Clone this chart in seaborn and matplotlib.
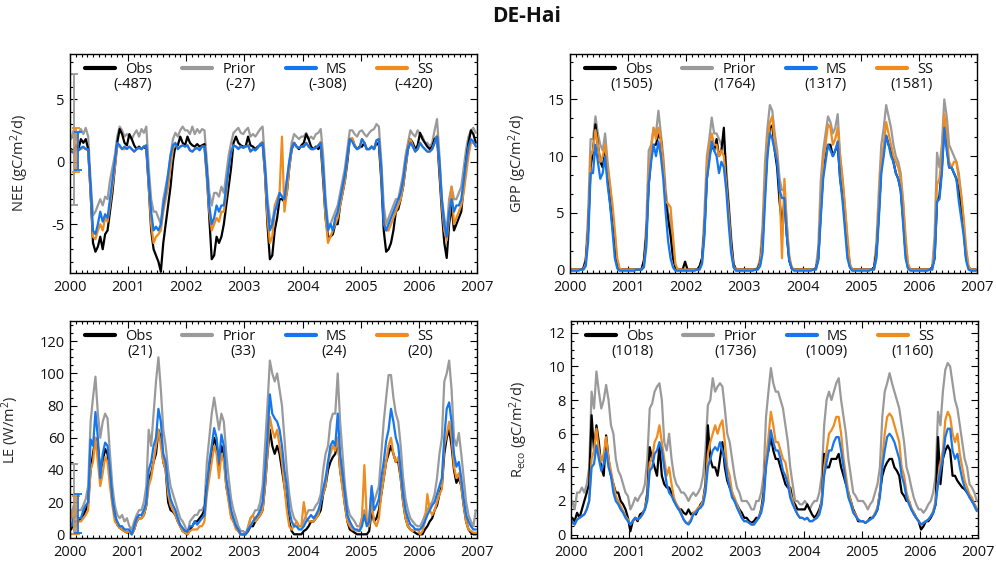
import numpy as np
import pandas as pd
import matplotlib
matplotlib.use('Agg')
import matplotlib.pyplot as plt
import seaborn as sns
from matplotlib.ticker import MultipleLocator
from matplotlib.lines import Line2D

# ---------------- data (half-monthly values, 2000-2006) ----------------
YEARS = list(range(2000, 2007))
STEPS_PER_YEAR = 24
SERIES = ['Obs', 'Prior', 'MS', 'SS']

nee_obs = [
    1.0, 0.8, 1.3, 1.0, 1.8, 1.5, 1.8, 1.0, -2.5, -6.5, -7.2, -6.8, -6.0, -7.0, -5.8, -5.5, -4.0, -2.5, -0.5, 1.5, 2.6, 2.2, 1.5, 1.3,
    2.2, 1.8, 1.3, 1.0, 1.2, 1.0, 1.2, 1.0, -2.0, -5.5, -7.0, -7.5, -8.0, -8.8, -6.5, -5.0, -3.5, -2.0, 0.0, 1.3, 1.3, 2.0, 1.5, 1.3,
    2.0, 1.5, 1.3, 1.2, 1.4, 1.2, 1.3, 1.4, -1.0, -4.5, -7.8, -7.5, -6.0, -6.5, -6.0, -5.0, -3.5, -2.0, -0.5, 1.5, 2.0, 1.5, 1.3, 1.2,
    1.2, 2.0, 1.3, 1.2, 1.0, 1.2, 1.3, 1.5, -1.0, -5.0, -7.8, -7.5, -5.5, -4.5, -3.0, -3.0, -3.2, -2.5, -0.5, 1.0, 1.5, 1.2, 1.0, 1.3,
    1.5, 2.2, 1.8, 1.2, 1.0, 1.2, 1.0, 1.3, -1.5, -4.5, -6.0, -6.0, -5.8, -5.0, -5.0, -3.5, -2.5, -1.5, 0.0, 1.8, 1.8, 1.3, 1.0, 1.2,
    1.2, 1.5, 1.0, 1.0, 1.2, 1.0, 1.5, 1.3, -1.5, -5.5, -7.2, -7.0, -6.5, -5.5, -4.0, -3.8, -3.0, -2.0, -0.5, 1.0, 1.8, 1.5, 1.0, 1.3,
    2.3, 1.8, 1.5, 1.2, 1.0, 1.2, 1.8, 2.0, -1.0, -4.0, -6.5, -7.7, -5.0, -3.5, -5.5, -5.0, -4.5, -4.0, -2.0, 0.0, 1.5, 2.5, 2.2, 1.5]
nee_prior = [
    1.8, 2.5, 1.8, 2.3, 2.6, 2.2, 2.7, 2.0, -1.5, -4.3, -4.0, -3.5, -3.0, -3.5, -2.8, -3.0, -1.5, -0.5, 0.5, 2.0, 2.8, 2.5, 2.0, 2.2,
    2.0, 1.8, 2.2, 2.5, 2.0, 2.6, 2.3, 2.8, -0.5, -3.0, -4.0, -4.0, -4.5, -5.0, -3.0, -2.0, -1.0, 0.5, 1.8, 2.3, 2.0, 2.5, 2.8, 2.5,
    2.5, 2.2, 2.8, 2.2, 2.6, 2.3, 2.6, 2.5, 0.0, -2.5, -3.5, -2.5, -2.5, -2.8, -2.0, -2.5, -1.0, 0.5, 1.5, 2.3, 2.5, 2.7, 2.3, 2.2,
    2.5, 2.7, 2.0, 2.2, 2.0, 2.3, 2.6, 2.8, 0.0, -3.0, -4.5, -5.0, -3.5, -3.0, -2.5, -2.8, -3.0, -1.5, 0.0, 1.5, 2.2, 2.0, 1.8, 2.0,
    2.0, 2.3, 1.8, 2.0, 1.8, 2.2, 2.3, 2.6, 0.5, -3.0, -5.0, -5.0, -4.5, -4.0, -3.5, -2.5, -1.5, -0.5, 1.0, 2.5, 2.5, 2.2, 2.0, 2.4,
    2.5, 2.2, 2.0, 2.3, 2.5, 2.6, 3.0, 2.8, 0.0, -3.5, -5.0, -4.5, -4.0, -3.5, -3.0, -3.0, -2.0, -1.0, 0.5, 1.5, 2.5, 2.2, 2.0, 2.5,
    2.2, 2.0, 1.5, 1.5, 1.2, 1.5, 2.5, 3.4, 0.5, -3.0, -4.5, -5.5, -3.0, -2.0, -3.0, -3.0, -2.5, -2.0, -0.5, 1.0, 2.0, 2.5, 2.7, 2.3]
nee_ms = [
    0.8, 0.7, 1.0, 0.9, 1.1, 1.2, 1.0, 1.0, -2.0, -5.5, -5.8, -5.0, -4.0, -4.8, -4.2, -4.5, -3.0, -1.5, 0.0, 1.5, 1.3, 1.0, 1.2, 1.0,
    1.2, 1.0, 0.8, 1.0, 1.1, 1.0, 1.2, 1.3, -1.5, -4.0, -5.5, -5.2, -5.5, -5.0, -3.5, -2.5, -1.0, 0.5, 1.3, 1.5, 1.0, 1.2, 1.3, 1.2,
    1.3, 0.9, 0.8, 1.0, 1.1, 0.9, 1.2, 1.2, -1.0, -3.5, -5.0, -4.5, -3.5, -4.0, -3.5, -3.5, -2.0, -0.5, 0.8, 1.3, 1.2, 1.0, 1.2, 1.1,
    1.2, 1.3, 0.8, 1.0, 0.9, 1.1, 1.4, 1.5, -0.5, -3.5, -5.5, -5.0, -4.0, -3.5, -2.5, -2.8, -3.0, -1.5, 0.0, 1.0, 1.5, 1.2, 1.1, 1.2,
    1.2, 1.5, 1.2, 1.0, 1.0, 1.1, 1.3, 1.5, -0.5, -3.5, -5.5, -5.0, -5.5, -4.5, -4.0, -3.0, -2.0, -1.0, 0.5, 1.8, 1.6, 1.2, 1.0, 1.1,
    1.8, 1.5, 1.0, 1.0, 1.2, 1.0, 1.7, 1.8, -0.5, -5.0, -5.5, -5.0, -4.5, -4.0, -3.5, -3.0, -2.5, -1.5, 0.0, 1.0, 1.5, 1.2, 0.8, 1.0,
    1.5, 1.2, 1.0, 0.8, 0.8, 1.0, 1.5, 2.0, 0.0, -3.0, -5.0, -6.0, -4.0, -3.0, -4.0, -3.5, -3.5, -3.0, -1.5, 0.0, 1.2, 1.8, 1.6, 1.2]
nee_ss = [
    0.9, 0.8, 1.0, 0.9, 1.0, 1.1, 1.0, 0.9, -2.5, -6.0, -6.2, -5.5, -5.0, -5.5, -4.5, -4.8, -3.5, -2.0, -0.5, 1.2, 1.2, 1.0, 1.0, 1.1,
    1.2, 1.0, 0.8, 1.0, 1.1, 1.0, 1.2, 1.3, -2.0, -5.0, -6.5, -6.0, -5.8, -5.5, -4.0, -3.0, -2.0, -0.5, 1.0, 1.4, 1.0, 1.2, 1.3, 1.2,
    1.3, 0.9, 0.8, 1.0, 1.1, 1.0, 1.2, 1.2, -1.5, -4.0, -5.5, -5.0, -4.5, -4.8, -4.0, -4.0, -2.5, -0.5, 0.8, 1.3, 1.2, 1.1, 1.2, 1.1,
    1.2, 1.3, 0.8, 1.0, 0.9, 1.1, 1.4, 1.6, -1.0, -4.5, -6.5, -6.0, -4.0, -3.0, -2.5, 2.0, -4.0, -2.5, -0.5, 1.0, 1.5, 1.2, 1.1, 1.2,
    1.2, 1.5, 1.2, 1.0, 1.0, 1.1, 1.3, 1.6, -1.0, -4.5, -6.5, -6.0, -5.5, -5.0, -4.5, -3.5, -2.5, -1.5, 0.3, 1.8, 1.9, 1.3, 1.0, 1.1,
    1.8, 1.5, 1.0, 1.0, 1.2, 1.0, 1.7, 1.8, -1.0, -4.5, -5.5, -5.5, -5.0, -4.5, -4.0, -3.5, -3.0, -2.0, -0.5, 1.0, 1.8, 1.3, 0.8, 1.0,
    1.5, 1.2, 1.0, 0.8, 0.8, 1.0, 1.5, 2.1, -0.5, -3.5, -5.5, -6.3, -4.5, -2.0, -5.0, -4.5, -4.0, -3.5, -2.5, -1.0, 0.5, 1.5, 1.5, 1.3]

gpp_obs = [
    0, 0, 0, 0, 0, 0.1, 0.8, 3.5, 9.0, 10.5, 12.8, 11.0, 9.5, 9.0, 10.5, 8.0, 6.0, 4.0, 1.8, 0.3, 0, 0, 0, 0,
    0, 0, 0, 0, 0, 0, 0.8, 3.0, 7.5, 10.0, 11.0, 11.0, 12.0, 11.5, 9.0, 6.0, 4.5, 3.0, 1.0, 0.2, 0, 0, 0, 0.7,
    0, 0, 0, 0, 0, 0.3, 1.0, 3.5, 8.0, 10.0, 11.0, 10.5, 11.5, 10.0, 10.5, 12.5, 8.0, 5.5, 2.5, 0.5, 0, 0, 0, 0,
    0, 0, 0, 0, 0, 0.1, 0.6, 2.5, 7.0, 10.5, 12.5, 12.7, 10.5, 9.0, 6.0, 4.0, 6.0, 3.0, 0.8, 0.1, 0, 0, 0, 0,
    0, 0, 0, 0, 0, 0.1, 1.0, 5.0, 8.5, 10.0, 11.0, 11.0, 10.0, 10.5, 11.0, 8.0, 6.5, 4.5, 2.0, 0.3, 0, 0, 0, 0,
    0, 0, 0, 0, 0, 0.2, 1.5, 5.0, 9.0, 10.5, 11.8, 11.0, 10.5, 9.5, 8.5, 8.0, 7.0, 4.5, 1.5, 0.2, 0, 0, 0, 0,
    0, 0, 0, 0, 0, 0.2, 1.0, 6.0, 6.5, 9.0, 12.5, 11.0, 9.0, 9.0, 8.5, 8.0, 7.0, 5.5, 3.5, 1.0, 0.2, 0, 0, 0]
gpp_prior = [
    0, 0, 0, 0, 0, 0.1, 1.0, 5.0, 11.5, 11.5, 13.5, 12.0, 11.0, 10.5, 12.0, 9.5, 7.5, 5.0, 2.5, 0.5, 0, 0, 0, 0,
    0, 0, 0, 0, 0, 0, 0.8, 4.0, 10.5, 11.0, 12.5, 12.0, 14.0, 12.0, 10.0, 7.0, 5.0, 4.5, 2.0, 0.3, 0, 0, 0, 0,
    0, 0, 0, 0, 0, 0.2, 1.0, 5.0, 10.0, 11.5, 13.4, 12.0, 12.0, 11.5, 11.0, 11.5, 9.0, 6.0, 3.0, 0.5, 0, 0, 0, 0,
    0, 0, 0, 0, 0, 0.2, 1.0, 4.0, 9.5, 12.5, 14.5, 14.0, 12.0, 10.5, 8.0, 7.0, 7.0, 4.0, 1.0, 0.2, 0, 0, 0, 0,
    0, 0, 0, 0, 0, 0.2, 2.0, 7.8, 10.5, 12.0, 13.5, 13.0, 12.0, 12.5, 13.7, 10.0, 8.0, 5.5, 2.5, 0.5, 0, 0, 0, 0,
    0, 0, 0, 0, 0, 0.2, 2.5, 7.0, 11.0, 12.5, 14.5, 13.5, 12.5, 11.0, 10.0, 9.5, 8.5, 6.0, 2.5, 0.5, 0, 0, 0, 0,
    0, 0, 0, 0, 0, 0.2, 3.0, 10.3, 9.0, 11.0, 15.0, 13.5, 11.0, 10.5, 10.0, 9.5, 8.5, 6.5, 4.0, 1.5, 0.2, 0, 0, 0]
gpp_ms = [
    -0.1, -0.1, -0.1, -0.1, 0, 0, 0.3, 2.5, 8.5, 8.5, 11.0, 9.5, 8.0, 8.5, 10.0, 7.5, 5.8, 3.5, 1.0, 0.1, -0.1, -0.1, -0.1, -0.1,
    -0.1, -0.1, -0.1, 0, 0, 0, 0.2, 2.0, 7.5, 9.5, 11.0, 10.0, 11.3, 10.0, 8.0, 5.0, 2.5, 1.0, 0.2, -0.1, -0.1, -0.1, -0.1, -0.1,
    -0.1, -0.1, -0.1, -0.1, 0, 0, 0.5, 3.0, 8.0, 9.5, 11.3, 10.5, 10.0, 8.5, 9.5, 9.0, 7.0, 4.0, 1.5, 0.2, -0.1, -0.1, -0.1, -0.1,
    -0.1, -0.1, -0.1, -0.1, 0, 0, 0.3, 1.5, 6.0, 10.0, 12.0, 11.5, 10.5, 9.5, 7.0, 6.3, 6.3, 3.0, 0.8, 0.1, -0.1, -0.1, -0.1, -0.1,
    -0.1, -0.1, -0.1, -0.1, 0, 0, 0.8, 4.5, 8.0, 9.5, 11.0, 10.5, 10.0, 10.5, 11.3, 8.0, 6.0, 3.5, 1.0, 0.2, -0.1, -0.1, -0.1, -0.1,
    -0.1, -0.1, -0.1, -0.1, 0, 0, 1.0, 4.5, 8.5, 10.0, 11.8, 11.0, 10.0, 9.5, 8.5, 8.0, 7.0, 4.0, 1.0, 0.1, -0.1, -0.1, -0.1, -0.1,
    -0.1, -0.1, -0.1, -0.1, 0, 0, 1.0, 6.0, 6.2, 8.5, 12.5, 10.5, 9.0, 9.0, 8.5, 8.0, 6.0, 4.5, 3.0, 0.8, 0, -0.1, -0.1, -0.1]
gpp_ss = [
    0, 0, 0, 0, 0, 0, 0.5, 3.5, 10.0, 10.5, 12.3, 11.0, 9.5, 10.0, 11.0, 9.0, 7.5, 5.8, 3.5, 1.0, 0.1, 0, 0, 0,
    0, 0, 0, 0, 0, 0, 0.3, 2.5, 8.5, 10.5, 12.5, 11.5, 12.5, 11.5, 9.5, 6.0, 5.8, 5.5, 3.0, 0.5, 0, 0, 0, 0,
    0, 0, 0, 0, 0, 0, 0.6, 3.5, 9.0, 11.0, 12.0, 11.0, 11.0, 10.0, 10.5, 10.0, 7.5, 5.0, 2.0, 0.3, 0, 0, 0, 0,
    0, 0, 0, 0, 0, 0, 0.5, 2.5, 8.0, 11.0, 13.0, 13.5, 11.0, 10.0, 7.5, 1.0, 8.0, 4.0, 1.2, 0.2, 0, 0, 0, 0,
    0, 0, 0, 0, 0, 0, 1.0, 5.5, 9.5, 11.0, 12.8, 12.5, 11.0, 11.5, 12.5, 10.0, 8.0, 5.5, 3.0, 0.5, 0, 0, 0, 0,
    0, 0, 0, 0, 0, 0, 1.2, 5.5, 9.5, 11.0, 13.0, 12.0, 11.0, 10.0, 9.5, 9.0, 8.0, 6.0, 3.0, 0.5, 0, 0, 0, 0,
    0, 0, 0, 0, 0, 0, 1.5, 7.5, 8.0, 10.0, 13.7, 12.0, 9.5, 9.0, 9.5, 9.5, 8.0, 6.5, 4.5, 2.0, 0.3, 0, 0, 0]

le_obs = [
    3, 8, 8, 8, 10, 12, 15, 20, 40, 50, 60, 55, 40, 45, 53, 50, 35, 20, 12, 6, 4, 3, 2, 1,
    2, 0, 3, 8, 10, 10, 12, 18, 35, 38, 45, 50, 65, 60, 45, 40, 20, 15, 14, 12, 8, 5, 2, 1,
    0, 3, 5, 8, 8, 10, 12, 15, 30, 40, 50, 60, 55, 40, 55, 50, 30, 22, 12, 8, 5, 2, 0, 0,
    0, 2, 5, 5, 8, 10, 12, 15, 30, 50, 65, 55, 50, 55, 50, 40, 30, 20, 8, 2, 0, 0, 0, 0,
    2, 3, 5, 8, 8, 10, 12, 15, 25, 30, 40, 45, 48, 50, 60, 40, 30, 18, 8, 3, 2, 1, 0, 0,
    0, 0, 0, 2, 15, 8, 10, 15, 25, 35, 45, 50, 55, 50, 45, 45, 35, 20, 10, 5, 3, 2, 1, 0,
    0, 0, 3, 5, 8, 10, 15, 18, 25, 30, 50, 60, 65, 55, 40, 32, 35, 30, 18, 8, 3, 1, 0, 0]
le_prior = [
    10, 18, 13, 15, 15, 18, 22, 30, 70, 85, 98, 75, 60, 70, 75, 72, 50, 30, 18, 12, 10, 12, 8, 10,
    5, 3, 8, 12, 15, 15, 20, 30, 65, 55, 75, 95, 110, 90, 65, 55, 40, 30, 25, 20, 15, 10, 8, 5,
    0, 8, 10, 12, 12, 15, 15, 18, 45, 60, 75, 85, 75, 65, 75, 70, 50, 35, 22, 15, 10, 5, 2, 2,
    0, 5, 10, 12, 15, 15, 20, 30, 55, 80, 108, 100, 95, 100, 90, 80, 60, 40, 25, 15, 10, 8, 5, 5,
    8, 12, 15, 15, 15, 18, 20, 25, 40, 50, 55, 70, 75, 75, 100, 70, 50, 30, 18, 12, 10, 8, 5, 5,
    10, 15, 8, 10, 28, 20, 25, 30, 50, 70, 85, 99, 99, 85, 75, 70, 55, 35, 22, 15, 10, 8, 6, 5,
    5, 8, 12, 15, 18, 20, 25, 35, 50, 60, 95, 100, 108, 90, 60, 55, 63, 50, 35, 20, 12, 8, 5, 15]
le_ms = [
    5, 10, 12, 10, 10, 15, 18, 20, 59, 55, 76, 60, 35, 50, 57, 55, 40, 22, 12, 8, 5, 5, 3, 3,
    3, 0, 5, 10, 12, 12, 15, 20, 40, 45, 55, 60, 78, 70, 50, 45, 30, 22, 18, 15, 10, 6, 4, 2,
    2, 5, 5, 8, 6, 8, 10, 12, 30, 45, 55, 66, 60, 45, 62, 55, 35, 25, 15, 10, 5, 3, 0, 0,
    0, 3, 5, 8, 10, 12, 15, 20, 38, 60, 87, 75, 72, 70, 65, 55, 40, 30, 15, 8, 5, 5, 3, 3,
    5, 8, 10, 12, 10, 12, 15, 20, 28, 35, 45, 55, 58, 55, 75, 50, 38, 25, 12, 8, 5, 3, 3, 2,
    5, 12, 5, 8, 30, 15, 18, 22, 35, 45, 58, 65, 78, 70, 60, 55, 40, 25, 15, 10, 6, 5, 3, 3,
    3, 5, 8, 12, 15, 18, 20, 25, 30, 35, 60, 78, 82, 70, 50, 42, 45, 35, 22, 12, 8, 5, 3, 3]
le_ss = [
    15, 5, 5, 8, 8, 10, 12, 15, 40, 45, 60, 45, 30, 38, 48, 45, 30, 18, 8, 6, 4, 3, 2, 1,
    2, 0, 3, 8, 10, 10, 12, 18, 30, 35, 45, 55, 65, 55, 45, 40, 25, 18, 15, 12, 8, 5, 2, 1,
    0, 2, 3, 3, 3, 5, 5, 8, 25, 35, 45, 55, 50, 35, 50, 45, 30, 20, 10, 8, 3, 2, 0, 0,
    0, 3, 10, 12, 8, 10, 12, 15, 30, 50, 73, 65, 60, 65, 55, 45, 30, 15, 5, 3, 5, 8, 5, 5,
    20, 10, 8, 8, 8, 10, 12, 20, 25, 30, 45, 50, 55, 52, 60, 40, 28, 18, 8, 5, 3, 3, 2, 2,
    10, 43, 10, 5, 20, 8, 5, 10, 25, 35, 45, 55, 60, 50, 45, 48, 35, 20, 10, 5, 3, 2, 3, 3,
    0, 2, 8, 25, 15, 12, 15, 20, 25, 28, 55, 62, 70, 60, 42, 35, 38, 30, 18, 8, 3, 2, 1, 1]

reco_obs = [
    1.0, 0.8, 1.3, 1.0, 1.5, 2.0, 2.5, 3.0, 7.1, 5.0, 6.5, 5.5, 4.0, 3.5, 5.9, 4.5, 3.5, 3.0, 2.5, 2.5, 2.0, 1.8, 1.5, 1.0,
    0.2, 0.8, 1.0, 0.8, 1.2, 1.3, 1.5, 2.5, 5.2, 4.5, 4.0, 3.5, 5.3, 3.5, 3.0, 2.8, 2.8, 2.5, 2.0, 1.8, 1.5, 1.5, 1.3, 1.2,
    1.5, 1.2, 1.3, 1.2, 1.5, 1.8, 2.0, 3.0, 6.5, 4.5, 4.0, 4.0, 3.5, 4.5, 5.5, 4.0, 3.2, 2.8, 2.5, 2.0, 1.8, 1.5, 1.3, 1.0,
    1.0, 0.8, 0.7, 0.8, 1.0, 1.0, 1.5, 2.5, 4.5, 5.0, 5.8, 5.0, 4.5, 4.5, 4.0, 3.5, 3.0, 2.8, 2.8, 2.0, 1.8, 1.5, 1.5, 1.5,
    1.5, 1.8, 1.5, 1.2, 1.0, 1.2, 1.5, 2.0, 4.8, 4.0, 4.0, 4.5, 4.5, 4.5, 4.8, 4.0, 3.5, 3.0, 2.5, 2.0, 1.5, 1.2, 0.8, 0.8,
    0.8, 0.7, 0.8, 1.0, 1.0, 1.2, 1.5, 2.5, 3.5, 4.0, 4.3, 4.5, 4.5, 4.0, 3.8, 3.5, 2.5, 2.3, 2.0, 2.0, 1.5, 1.3, 1.0, 0.8,
    0.3, 0.5, 0.8, 0.8, 1.0, 1.3, 1.8, 5.8, 3.0, 4.5, 5.0, 5.3, 5.0, 3.5, 3.5, 3.2, 3.0, 2.8, 2.7, 2.5, 2.3, 2.0, 1.8, 1.5]
reco_prior = [
    2.0, 1.5, 2.5, 2.5, 2.8, 2.5, 3.0, 4.0, 8.5, 7.5, 9.7, 8.5, 7.5, 8.0, 8.9, 8.0, 6.5, 6.0, 4.5, 3.8, 3.5, 3.0, 2.5, 2.3,
    1.5, 1.8, 2.2, 2.0, 2.3, 2.5, 3.0, 4.5, 7.5, 7.8, 8.5, 8.8, 9.0, 8.0, 5.5, 5.0, 6.0, 4.5, 3.5, 3.0, 2.8, 2.5, 2.5, 2.3,
    2.0, 2.3, 2.5, 2.3, 2.5, 2.8, 3.5, 5.0, 7.7, 8.0, 9.3, 8.5, 8.8, 9.0, 8.8, 7.5, 6.0, 5.5, 4.5, 3.5, 2.8, 2.5, 2.0, 2.0,
    2.0, 1.8, 1.5, 1.5, 2.0, 2.0, 2.5, 3.5, 7.0, 8.5, 9.9, 9.0, 8.5, 8.5, 8.0, 7.5, 6.5, 5.5, 4.0, 3.0, 2.0, 2.0, 1.8, 1.8,
    2.0, 1.8, 1.5, 1.8, 2.0, 2.0, 2.5, 3.5, 6.5, 8.0, 8.5, 8.0, 8.5, 9.0, 9.3, 8.0, 7.0, 6.0, 4.5, 3.5, 2.5, 2.3, 2.0, 2.0,
    2.0, 1.8, 1.5, 1.8, 2.0, 2.5, 3.0, 4.0, 7.0, 8.5, 9.0, 9.6, 9.0, 8.5, 8.0, 7.5, 6.5, 5.5, 4.0, 3.5, 2.8, 2.2, 1.8, 1.5,
    1.5, 1.3, 1.5, 1.8, 2.0, 2.5, 3.5, 7.3, 6.5, 8.5, 9.8, 10.2, 10.0, 9.0, 8.0, 7.5, 6.5, 5.5, 4.5, 4.0, 3.0, 2.8, 2.5, 2.0]
reco_ms = [
    0.8, 0.6, 0.9, 1.0, 1.1, 1.2, 1.5, 2.0, 4.0, 4.2, 5.3, 4.5, 3.8, 4.2, 5.0, 4.0, 3.5, 2.5, 2.0, 1.8, 1.5, 1.3, 1.0, 0.8,
    0.6, 0.8, 1.0, 0.9, 1.0, 1.2, 1.5, 2.0, 3.8, 4.0, 4.8, 5.0, 5.5, 5.0, 4.0, 3.0, 2.5, 2.3, 2.0, 1.7, 1.5, 1.2, 0.9, 0.7,
    0.6, 0.8, 1.2, 1.3, 1.5, 1.6, 1.8, 2.5, 4.0, 4.5, 5.0, 5.2, 5.0, 5.5, 5.0, 4.5, 3.5, 2.8, 2.2, 2.0, 1.6, 1.3, 1.0, 0.8,
    0.8, 0.7, 0.6, 0.6, 0.8, 1.0, 1.3, 2.0, 4.0, 5.0, 6.2, 5.5, 5.0, 5.0, 4.5, 3.8, 3.5, 3.0, 2.2, 1.8, 1.5, 1.2, 1.0, 1.0,
    0.9, 1.0, 0.8, 0.8, 0.9, 1.0, 1.2, 1.8, 3.5, 4.3, 5.0, 5.0, 5.5, 5.8, 5.8, 5.0, 4.0, 3.0, 2.2, 1.8, 1.3, 1.1, 0.9, 0.8,
    0.8, 0.7, 0.8, 0.9, 1.0, 1.2, 1.5, 2.2, 4.0, 5.0, 5.8, 6.0, 5.8, 5.5, 5.0, 4.5, 3.5, 3.0, 2.2, 1.8, 1.5, 1.2, 1.0, 0.8,
    0.6, 0.7, 0.8, 0.9, 1.1, 1.3, 1.8, 3.0, 3.8, 4.5, 5.8, 6.3, 6.3, 5.0, 4.5, 4.8, 4.0, 3.3, 2.8, 2.5, 2.2, 2.0, 1.7, 1.4]
reco_ss = [
    0.7, 0.6, 0.9, 1.0, 1.1, 1.2, 1.5, 2.0, 4.5, 5.0, 6.3, 5.0, 4.3, 4.8, 5.8, 4.5, 3.8, 3.0, 2.3, 2.0, 1.7, 1.4, 1.1, 0.9,
    0.6, 0.8, 1.0, 0.9, 1.0, 1.2, 1.6, 2.2, 4.3, 4.5, 5.5, 5.8, 6.5, 5.5, 4.5, 3.5, 4.0, 3.0, 2.2, 1.8, 1.6, 1.3, 0.9, 0.7,
    0.7, 0.9, 1.3, 1.4, 1.6, 1.7, 2.0, 2.8, 4.8, 5.5, 6.0, 6.5, 6.0, 6.5, 6.8, 5.5, 4.0, 3.5, 2.5, 2.2, 1.8, 1.4, 1.0, 0.8,
    0.8, 0.7, 0.6, 0.6, 0.8, 1.0, 1.4, 2.2, 4.5, 5.8, 7.3, 6.5, 5.5, 5.5, 5.0, 4.5, 4.3, 3.5, 2.5, 2.0, 1.5, 1.2, 1.0, 1.0,
    0.9, 1.0, 0.8, 0.8, 0.9, 1.0, 1.3, 2.0, 4.0, 5.0, 6.0, 6.2, 6.5, 7.0, 7.0, 6.0, 4.5, 3.5, 2.5, 2.0, 1.4, 1.2, 0.9, 0.8,
    0.8, 0.7, 0.8, 0.9, 1.0, 1.3, 1.6, 2.5, 4.5, 6.0, 7.0, 7.2, 7.0, 6.5, 6.0, 5.5, 4.0, 3.5, 2.5, 2.0, 1.6, 1.3, 1.0, 0.8,
    0.6, 0.7, 0.8, 0.9, 1.1, 1.4, 2.0, 3.2, 4.3, 5.0, 6.8, 7.3, 7.0, 6.0, 5.5, 6.0, 4.8, 4.0, 3.2, 2.8, 2.4, 2.2, 1.8, 1.5]

nee_totals = ['(-487)', '(-27)', '(-308)', '(-420)']
gpp_totals = ['(1505)', '(1764)', '(1317)', '(1581)']
le_totals = ['(21)', '(33)', '(24)', '(20)']
reco_totals = ['(1018)', '(1736)', '(1009)', '(1160)']

# error bars drawn at the start of the record (Prior, SS, MS)
err_series = ['Prior', 'SS', 'MS']
err_t = [2000.07, 2000.10, 2000.14]
nee_err_mid = [1.75, 0.95, 0.85]
nee_err_half = [5.25, 1.75, 1.55]
le_err_mid = [22, 12, 13]
le_err_half = [22, 12, 12]

year_ticks = [2000, 2001, 2002, 2003, 2004, 2005, 2006, 2007]

# ---------------- style ----------------
sns.set_style('ticks')
plt.rcParams['font.family'] = ['Open Sans', 'DejaVu Sans']
plt.rcParams['mathtext.fontset'] = 'custom'
plt.rcParams['mathtext.rm'] = 'Open Sans'
plt.rcParams['mathtext.it'] = 'Open Sans'
plt.rcParams['axes.unicode_minus'] = False
plt.rcParams['text.color'] = '#111111'

COLORS = {'Obs': '#000000', 'Prior': '#9a9a9a', 'MS': '#1577f0', 'SS': '#f08c1e'}
DRAW_ORDER = ['Prior', 'Obs', 'SS', 'MS']
FS = 10.5

t = np.array([y + (k + 0.5) / STEPS_PER_YEAR for y in YEARS for k in range(STEPS_PER_YEAR)])


def make_df(obs, prior, ms, ss):
    frames = []
    for name, vals in zip(SERIES, [obs, prior, ms, ss]):
        frames.append(pd.DataFrame({'t': t, 'v': vals, 'series': name}))
    return pd.concat(frames, ignore_index=True)


panels = [
    dict(pos=[70/996, 1-273/562, 407/996, 219/562], df=make_df(nee_obs, nee_prior, nee_ms, nee_ss),
         ylabel='NEE (gC/m$^{2}$/d)', ylim=(-8.9, 8.6), major=5, minor=1, totals=nee_totals,
         err=(nee_err_mid, nee_err_half), lx=-0.096),
    dict(pos=[570/996, 1-273/562, 407/996, 219/562], df=make_df(gpp_obs, gpp_prior, gpp_ms, gpp_ss),
         ylabel='GPP (gC/m$^{2}$/d)', ylim=(-0.3, 19.0), major=5, minor=5/3, totals=gpp_totals,
         err=None, lx=-0.10),
    dict(pos=[70/996, 1-538/562, 407/996, 217/562], df=make_df(le_obs, le_prior, le_ms, le_ss),
         ylabel='LE (W/m$^{2}$)', ylim=(-2.3, 132.6), major=20, minor=5, totals=le_totals,
         err=(le_err_mid, le_err_half), lx=-0.12),
    dict(pos=[571/996, 1-538/562, 407/996, 217/562], df=make_df(reco_obs, reco_prior, reco_ms, reco_ss),
         ylabel='R$_{\\mathrm{eco}}$ (gC/m$^{2}$/d)', ylim=(-0.2, 12.7), major=2, minor=0.5,
         totals=reco_totals, err=None, lx=-0.10),
]

fig = plt.figure(figsize=(9.96, 5.62), dpi=100)
legends = []

for p in panels:
    ax = fig.add_axes(p['pos'])
    sns.lineplot(data=p['df'], x='t', y='v', hue='series', hue_order=DRAW_ORDER,
                 palette=COLORS, linewidth=1.6, legend=False, ax=ax, estimator=None)
    if p['err'] is not None:
        mids, halves = p['err']
        for s, tt, mval, hval in zip(err_series, err_t, mids, halves):
            ax.errorbar([tt], [mval], yerr=[hval], color=COLORS[s], linewidth=1.3,
                        capsize=3, capthick=1.3, fmt='none')
    ax.set_xlim(2000, 2007)
    ax.set_ylim(*p['ylim'])
    ax.set_xticks(year_ticks)
    ax.set_xticklabels([str(y) for y in year_ticks])
    ax.xaxis.set_minor_locator(MultipleLocator(0.1))
    ax.yaxis.set_major_locator(MultipleLocator(p['major']))
    ax.yaxis.set_minor_locator(MultipleLocator(p['minor']))
    ax.tick_params(which='both', direction='in', top=True, right=True, labelsize=FS,
                   width=0.8, colors='black', labelcolor='#111111')
    ax.tick_params(which='major', length=5)
    ax.tick_params(which='minor', length=2.5)
    ax.tick_params(axis='x', pad=5)
    ax.tick_params(axis='y', pad=4)
    for sp in ax.spines.values():
        sp.set_linewidth(1.0)
        sp.set_color('black')
    ax.set_xlabel('')
    ax.set_ylabel(p['ylabel'], fontsize=FS)
    ax.yaxis.set_label_coords(p['lx'], 0.5)

    handles = [Line2D([], [], color=COLORS[s], linewidth=3.0) for s in SERIES]
    leg = ax.legend(handles, SERIES, ncol=4, loc='upper left',
                    bbox_to_anchor=(15/407, 1 - 8/p['pos'][3]/562), frameon=False, fontsize=FS,
                    handlelength=2.05, handletextpad=0.7, columnspacing=2.05,
                    borderaxespad=0.0, borderpad=0.0)
    legends.append((ax, leg, p['totals']))

# place the totals under the legend labels (needs rendered legend positions)
fig.canvas.draw()
for ax, leg, totals in legends:
    for txt, tot in zip(leg.get_texts(), totals):
        bb = txt.get_window_extent()
        x_r, y_c = bb.x1, (bb.y0 + bb.y1) / 2 - 15
        xa, ya = ax.transAxes.inverted().transform((x_r, y_c))
        ax.text(xa, ya, tot, transform=ax.transAxes, ha='right', va='center', fontsize=FS)

fig.text(527/996, 1-17/562, 'DE-Hai', ha='center', va='center', fontsize=15, fontweight='bold')

fig.savefig('out.png', dpi=100)
